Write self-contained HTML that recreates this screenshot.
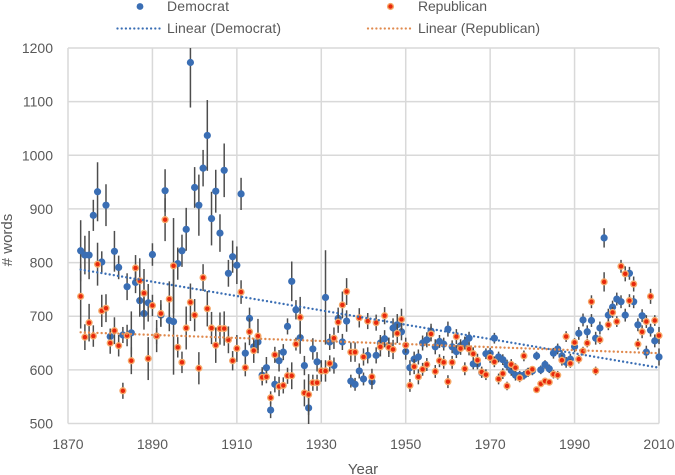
<!DOCTYPE html>
<html>
<head>
<meta charset="utf-8">
<title>Words per year by party</title>
<style>
html,body{margin:0;padding:0;background:#fff;width:675px;height:475px;overflow:hidden}
svg{display:block}
text{font-family:"Liberation Sans",sans-serif;fill:#595959;font-size:14px}
</style>
</head>
<body>
<svg id="chart" width="675" height="475" viewBox="0 0 675 475" xmlns="http://www.w3.org/2000/svg">
<defs><clipPath id="plot-clip"><rect x="60" y="48" width="610" height="376"/></clipPath></defs>
<g id="grid"></g>
<g id="axes"></g>
<g id="plot" clip-path="url(#plot-clip)"></g>
<g>
  <circle cx="140" cy="6.5" r="3.4" fill="#3a6eb4"/>
  <text x="167" y="11" textLength="62">Democrat</text>
  <circle cx="390.5" cy="6.5" r="2.9" fill="#e8280c" stroke="#f6a868" stroke-width="1.4"/>
  <text x="418" y="11" textLength="69">Republican</text>
  <line x1="117.5" y1="28.5" x2="161" y2="28.5" stroke="#3a6eb4" stroke-width="2.3" stroke-dasharray="0 4.2" stroke-linecap="round"/>
  <text x="167" y="33" textLength="114">Linear (Democrat)</text>
  <line x1="368" y1="28.5" x2="412" y2="28.5" stroke="#e08a4e" stroke-width="2.3" stroke-dasharray="0 4.2" stroke-linecap="round"/>
  <text x="418" y="33" textLength="122">Linear (Republican)</text>
</g>
<text x="363" y="474" text-anchor="middle" style="font-size:15px">Year</text>
<text transform="translate(12,240) rotate(-90)" text-anchor="middle" style="font-size:15px"># words</text>
</svg>
<script>
const years = [
1873,1874,1875,1876,1877,1878,1879,
1880,1881,1882,1883,1884,1885,1886,1887,1888,1889,
1890,1891,1892,1893,1894,1895,1896,1897,1898,1899,
1900,1901,1902,1903,1904,1905,1906,1907,1908,1909,
1910,1911,1912,1913,1914,1915,1916,1917,1918,1919,
1920,1921,1922,1923,1924,1925,1926,1927,1928,1929,
1930,1931,1932,1933,1934,1935,1936,1937,1938,1939,
1940,1941,1942,1943,1944,1945,1946,1947,1948,1949,
1950,1951,1952,1953,1954,1955,1956,1957,1958,1959,
1960,1961,1962,1963,1964,1965,1966,1967,1968,1969,
1970,1971,1972,1973,1974,1975,1976,1977,1978,1979,
1980,1981,1982,1983,1984,1985,1986,1987,1988,1989,
1990,1991,1992,1993,1994,1995,1996,1997,1998,1999,
2000,2001,2002,2003,2004,2005,2006,2007,2008,2009,
2010];
const democrat = [
822,814,814,888,932,801,907,
662,821,791,665,755,669,763,729,705,725,
815,663,702,934,692,690,798,822,862,1173,
940,907,976,1037,882,933,855,972,780,811,
795,928,631,696,643,652,590,604,525,573,
617,633,681,765,712,660,608,529,639,615,
598,735,652,608,696,652,691,579,573,598,
583,627,578,627,650,658,645,678,684,671,
634,604,620,624,650,656,672,643,653,648,
676,643,634,645,650,659,611,611,595,630,
631,659,624,619,609,599,590,590,590,596,
598,626,600,610,602,631,639,626,614,620,
643,668,693,671,692,659,678,846,702,717,
732,727,702,780,727,684,701,633,674,654,
624];
const democratError = [
57,36,45,29,55,20,39,
15,38,22,15,25,40,20,30,30,35,
21,15,20,40,20,99,30,30,40,84,
38,57,34,66,50,40,35,50,25,30,
35,30,20,20,15,15,15,20,15,15,
20,15,15,37,18,30,18,33,20,18,
15,88,15,15,20,15,20,12,12,14,
12,15,14,15,15,16,15,18,20,16,
15,14,14,14,14,14,14,14,12,12,
14,12,12,12,12,12,10,10,10,10,
10,10,10,10,10,10,10,8,8,8,
8,8,8,8,8,10,10,10,10,10,
10,12,12,12,12,12,12,18,12,12,
12,12,12,12,12,12,12,12,12,12,
16];
const republican = [
737,661,688,663,797,710,715,
650,673,645,561,664,617,790,766,743,621,
720,663,705,880,732,794,642,614,678,726,
702,603,772,714,678,646,677,677,656,617,
640,745,604,671,636,663,586,587,548,628,
569,571,589,589,648,698,557,554,576,576,
598,598,612,659,689,721,746,633,633,697,
624,691,587,688,643,701,642,638,668,694,
646,571,606,587,601,610,667,597,617,614,
578,614,662,640,602,639,630,618,596,591,
623,615,583,593,570,610,604,585,626,595,
601,563,574,579,577,592,590,618,662,612,
651,620,635,650,727,598,656,764,684,707,
690,793,779,729,760,648,671,690,737,692,
664];
const republicanError = [
60,24,35,20,40,30,26,
20,25,20,15,20,25,24,42,45,40,
20,30,25,40,33,89,19,20,40,35,
30,30,25,33,30,33,30,32,25,18,
25,22,16,25,23,32,15,12,12,15,
18,15,15,25,12,38,25,38,15,15,
20,20,15,20,20,25,25,18,18,18,
16,15,15,15,18,16,18,18,18,20,
14,12,14,14,12,12,14,12,12,12,
12,12,14,12,12,12,12,12,10,10,
10,10,10,10,8,10,8,8,10,8,
6,6,6,6,6,8,8,10,10,8,
8,8,8,8,12,8,8,18,10,10,
10,12,14,12,14,10,12,12,14,10,
16];
const democratTrendYears = [1873, 2010];
const democratTrend = [787, 604];
const republicanTrendYears = [1873, 2010];
const republicanTrend = [670, 631];
const xTicks = [1870,1890,1910,1930,1950,1970,1990,2010];
const yTicks = [500,600,700,800,900,1000,1100,1200];

const NS = 'http://www.w3.org/2000/svg';
const xScale = v => 68 + (v - 1870) * (659 - 68) / 140;
const yScale = v => 423.5 - (v - 500) * (423.5 - 48) / 700;

function make(tag, parent, attrs) {
  const el = document.createElementNS(NS, tag);
  for (const k in attrs) el.setAttribute(k, attrs[k]);
  parent.appendChild(el);
  return el;
}

const grid = document.getElementById('grid');
const axes = document.getElementById('axes');
const plot = document.getElementById('plot');

yTicks.forEach(t => {
  const line = make('line', grid, {x1: 68, x2: 659, y1: yScale(t), y2: yScale(t), stroke: '#d9d9d9', 'stroke-width': 1.5});
  
  
  const label = make('text', axes, {x: 53, y: yScale(t) + 5, 'text-anchor': 'end'});
  
  
  label.textContent = t;
});
xTicks.forEach(t => {
  const line = make('line', grid, {x1: xScale(t), x2: xScale(t), y1: 48, y2: 423.5, stroke: '#d9d9d9', 'stroke-width': 1.5});
  
  
  const label = make('text', axes, {x: xScale(t), y: 449, 'text-anchor': 'middle'});
  
  
  label.textContent = t;
});

function drawSeries(name, values, errors, fill, stroke, strokeWidth) {
  const group = make('g', plot, {});
  
  
  values.forEach((v, i) => {
    const x = xScale(years[i]);
    const bar = make('line', group, {x1: x, x2: x, y1: yScale(v + errors[i]), y2: yScale(v - errors[i]), stroke: '#4d4d4d', 'stroke-width': 1.5});
    
    
  });
  values.forEach((v, i) => {
    const x = xScale(years[i]);
    const dot = make('circle', group, {cx: x, cy: yScale(v), r: stroke ? 2.9 : 3.6, fill: fill});
    if (stroke) { dot.setAttribute('stroke', stroke); dot.setAttribute('stroke-width', strokeWidth); }
    
    
  });
}

function drawTrend(name, xs, ys, color) {
  const line = make('line', plot, {x1: xScale(xs[0]), y1: yScale(ys[0]), x2: xScale(xs[1]), y2: yScale(ys[1]), stroke: color, 'stroke-width': 2.4, 'stroke-dasharray': '0 4.2', 'stroke-linecap': 'round'});
  
  
}

drawSeries('democrat', democrat, democratError, '#3a6eb4', null, 0);
drawSeries('republican', republican, republicanError, '#e8280c', '#f6a868', 1.4);
drawTrend('democrat', democratTrendYears, democratTrend, '#3a6eb4');
drawTrend('republican', republicanTrendYears, republicanTrend, '#e08a4e');
</script>
</body>
</html>
